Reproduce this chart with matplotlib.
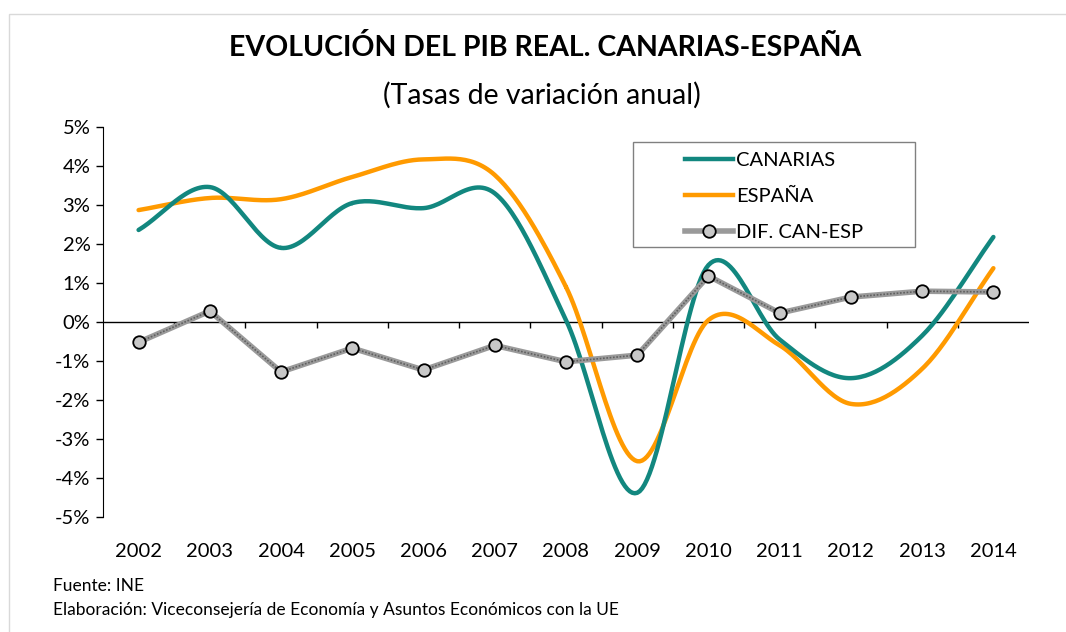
import numpy as np
import matplotlib.pyplot as plt
from matplotlib.lines import Line2D
from matplotlib.patches import Rectangle

plt.rcParams['font.family'] = ['Lato', 'DejaVu Sans']

# Data (tasas de variacion anual, %)
years = ["2002", "2003", "2004", "2005", "2006", "2007", "2008",
         "2009", "2010", "2011", "2012", "2013", "2014"]
canarias = [2.36, 3.46, 1.90, 3.05, 2.92, 3.30, 0.05,
            -4.38, 1.46, -0.45, -1.44, -0.35, 2.18]
espana = [2.87, 3.18, 3.15, 3.72, 4.17, 3.77, 0.90,
          -3.57, 0.05, -0.60, -2.10, -1.20, 1.38]
dif = [-0.52, 0.28, -1.28, -0.67, -1.23, -0.60, -1.02,
       -0.85, 1.18, 0.23, 0.64, 0.79, 0.77]


def smooth(x, y, n=30):
    # Catmull-Rom spline through the points (like Excel "smoothed line")
    x = np.asarray(x, float)
    y = np.asarray(y, float)
    px = np.concatenate([[2 * x[0] - x[1]], x, [2 * x[-1] - x[-2]]])
    py = np.concatenate([[2 * y[0] - y[1]], y, [2 * y[-1] - y[-2]]])
    xs, ys = [], []
    t = np.linspace(0, 1, n)
    for i in range(1, len(px) - 2):
        for p, out in ((px, xs), (py, ys)):
            p0, p1, p2, p3 = p[i - 1], p[i], p[i + 1], p[i + 2]
            out.extend(0.5 * (2 * p1 + (-p0 + p2) * t
                              + (2 * p0 - 5 * p1 + 4 * p2 - p3) * t ** 2
                              + (-p0 + 3 * p1 - 3 * p2 + p3) * t ** 3))
    return np.array(xs), np.array(ys)


teal = "#12877f"
orange = "#ff9a00"

fig = plt.figure(figsize=(10.66, 6.32), dpi=100)
fig.patches.append(Rectangle((0.008, -0.01), 0.995, 0.988, transform=fig.transFigure,
                             fill=False, edgecolor="#d9d9d9", linewidth=1))
ax = fig.add_axes([0.0966, 0.182, 0.8687, 0.617])

x = np.arange(len(years))
sx, sy = smooth(x, canarias)
ax.plot(sx, sy, color=teal, linewidth=3.2, solid_capstyle="round", zorder=3)
sx, sy = smooth(x, espana)
ax.plot(sx, sy, color=orange, linewidth=3.2, solid_capstyle="round", zorder=2)

ax.plot(x, dif, color="#9a9a9a", linewidth=4, zorder=4)
ax.plot(x, dif, color="#606060", linewidth=1.2, linestyle=(0, (1, 1)), zorder=4)
ax.plot(x, dif, linestyle="none", marker="o", markersize=9,
        markerfacecolor="#c8c8c8", markeredgecolor="black", markeredgewidth=1.3, zorder=5)

ax.set_xlim(-0.5, len(years) - 0.5)
ax.set_ylim(-5, 5)
ax.set_yticks(np.arange(-5, 6, 1))
ax.set_yticklabels([f"{v}%" for v in range(-5, 6)], fontsize=14.5)
ax.tick_params(axis="y", direction="out", length=5, width=1, pad=4)
ax.set_xticks(x)
ax.set_xticklabels(years, fontsize=14.5)
ax.tick_params(axis="x", length=0, pad=19)

for s in ("top", "right", "bottom"):
    ax.spines[s].set_visible(False)
ax.axhline(0, color="black", linewidth=1, zorder=1)
ax.vlines(np.arange(0.5, len(years) - 1, 1), -0.15, 0, color="black", linewidth=1, zorder=1)

# legend box
ax.add_patch(Rectangle((0.572, 0.692), 0.305, 0.2695, transform=ax.transAxes,
                       facecolor="white", edgecolor="#808080", linewidth=1, zorder=6))
handles = [
    Line2D([], [], color=teal, linewidth=3.2),
    Line2D([], [], color=orange, linewidth=3.2),
    (Line2D([], [], color="#9a9a9a", linewidth=4),
     Line2D([], [], color="black", marker="o", markersize=9, linestyle="none",
            markerfacecolor="#c8c8c8", markeredgewidth=1.3)),
]
leg = ax.legend(handles, ["CANARIAS", "ESPAÑA", "DIF. CAN-ESP"], loc="upper left",
                bbox_to_anchor=(0.6285, 0.936), fontsize=14.5, frameon=False,
                handlelength=2.4, handletextpad=0.15, labelspacing=0.93, borderpad=0,
                borderaxespad=0)
leg.set_zorder(7)

fig.text(0.511, 0.925, "EVOLUCIÓN DEL PIB REAL. CANARIAS-ESPAÑA", ha="center",
         va="center", fontsize=20.5, fontweight="bold")
fig.text(0.508, 0.85, "(Tasas de variación anual)", ha="center", va="center", fontsize=20.5)
fig.text(0.05, 0.072, "Fuente: INE", fontsize=12.5, va="center")
fig.text(0.05, 0.035, "Elaboración: Viceconsejería de Economía y Asuntos Económicos con la UE",
         fontsize=12.5, va="center")

fig.savefig("out.png", dpi=100)
